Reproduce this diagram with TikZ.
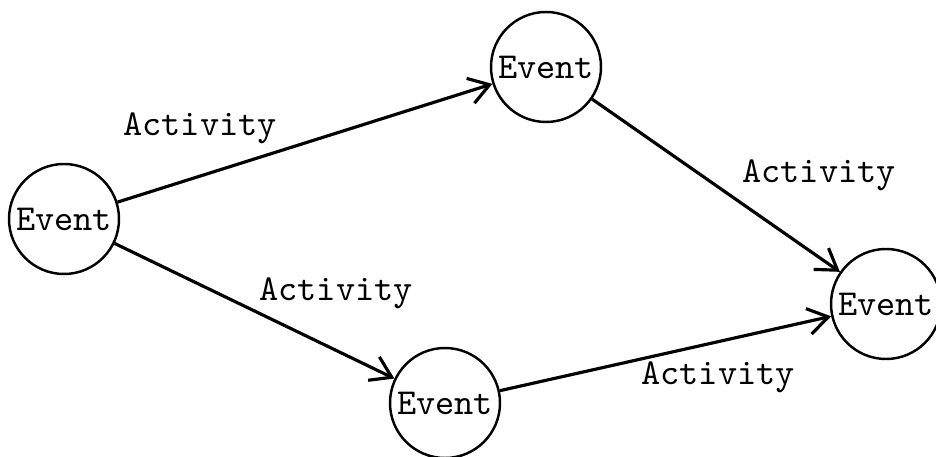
\documentclass[tikz,border=0pt]{standalone}
\usepackage{tikz}
\usetikzlibrary{arrows.meta,positioning}

\begin{document}
\begin{tikzpicture}[on grid, every node/.style={font=\ttfamily\fontsize{10.4}{12}\selectfont}]
        \tikzstyle{vertex} = [draw, circle, line width=0.7pt, minimum size=1.1cm, inner sep=0pt]
        \tikzstyle{act} = [line width=0.9pt, -{Straight Barb[length=2mm,width=2.6mm]}]
        \useasboundingbox (-0.64,-2.38) rectangle (8.72,2.19);
        \node[vertex] (a) {Event};
        \node[vertex, above right = 1.52cm and 4.82cm of a] (b) {Event};
        \node[vertex, below right = 1.84cm and 3.81cm of a] (c) {Event};
        \node[vertex, below right = 0.85cm and 8.22cm of a] (d) {Event};

        \node[above right = 0.91cm and 1.36cm of a] (ab) {Activity};
        \node[below right = 0.74cm and 2.72cm of a] (ac) {Activity};
        \node[below right = 1.08cm and 2.73cm of b] (bd) {Activity};
        \node[above right = 0.26cm and 2.73cm of c] (cd) {Activity};

        \draw [act] (a) -- (b);
        \draw [act] (a) -- (c);
        \draw [act] (b) -- (d);
        \draw [act] (c) -- (d);
        \end{tikzpicture}
\end{document}
